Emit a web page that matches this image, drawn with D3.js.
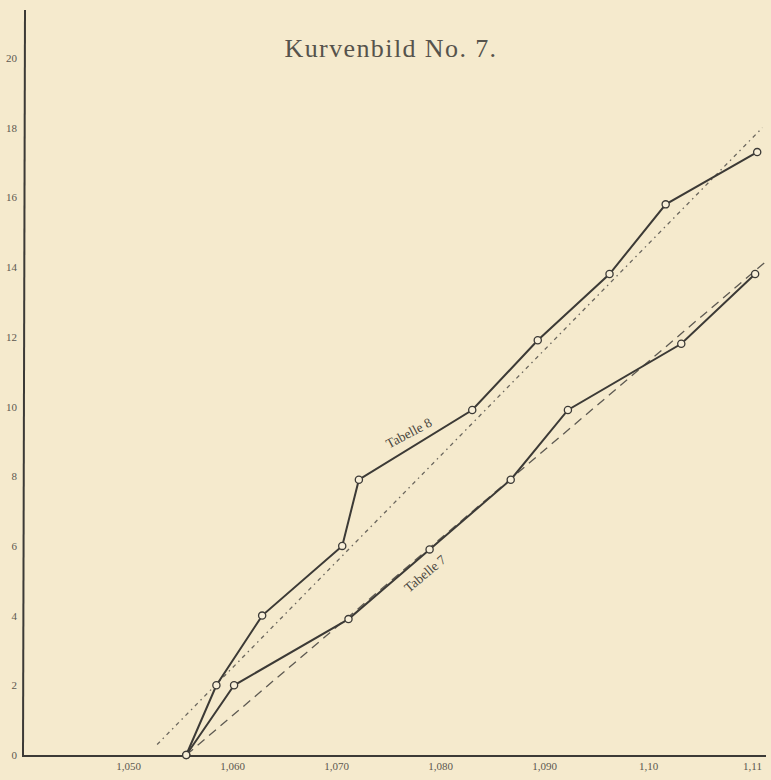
<!DOCTYPE html>
<html>
<head>
<meta charset="utf-8">
<script src="https://cdn.jsdelivr.net/npm/d3@7"></script>
<style>
	html, body { margin: 0; padding: 0; background: #f5eacd; }
	svg { display: block; }
	text { font-family: "Liberation Serif", "DejaVu Serif", serif; }
</style>
</head>
<body>
<svg id="chart" width="771" height="780"></svg>
<script>
// Tick values and their printed labels
const xTicks = [1.05, 1.06, 1.07, 1.08, 1.09, 1.10, 1.11];
const xTickLabels = ["1,050", "1,060", "1,070", "1,080", "1,090", "1,10", "1,11"];
const yTicks = [0, 2, 4, 6, 8, 10, 12, 14, 16, 18, 20];

// Tabelle 8 (upper curve)
const tabelle8X = [1.0556, 1.0585, 1.0629, 1.0706, 1.0722, 1.0831, 1.0894, 1.0963, 1.1017, 1.1105];
const tabelle8Y = [0, 2.0, 4.0, 6.0, 7.9, 9.9, 11.9, 13.8, 15.8, 17.3];

// Tabelle 7 (lower curve)
const tabelle7X = [1.0556, 1.0602, 1.0712, 1.0790, 1.0868, 1.0923, 1.1032, 1.1103];
const tabelle7Y = [0, 2.0, 3.9, 5.9, 7.9, 9.9, 11.8, 13.8];

// Straight reference lines
const dotted8X = [1.0528, 1.1110];
const dotted8Y = [0.3, 18.0];
const dashed7X = [1.0556, 1.1115];
const dashed7Y = [0, 14.2];

const ink = "#3c3a36";
const faint = "#5c5850";

const svg = d3.select("#chart");

// Scales
const x = d3.scaleLinear().domain([1.04, 1.11]).range([24, 752]);
const y = d3.scaleLinear().domain([0, 20]).range([755, 58]);

const zip = (xs, ys) => xs.map((v, i) => [v, ys[i]]);
const line = d3.line().x(d => x(d[0])).y(d => y(d[1]));

// Title
svg.append("text")
	.attr("x", 391).attr("y", 57)
	.attr("text-anchor", "middle")
	.attr("font-size", 26)
	.attr("letter-spacing", 1.4)
	.attr("fill", "#56534c")
	.text("Kurvenbild No. 7.");

// Axes lines
svg.append("line")
	.attr("x1", 25).attr("y1", 10).attr("x2", 23).attr("y2", 756)
	.attr("stroke", ink).attr("stroke-width", 2);
svg.append("line")
	.attr("x1", 22).attr("y1", 756).attr("x2", 766).attr("y2", 756)
	.attr("stroke", ink).attr("stroke-width", 2);

// Tick labels
const xAxis = d3.axisBottom(x)
	.tickValues(xTicks)
	.tickSize(0)
	.tickFormat((d, i) => xTickLabels[i]);
const xg = svg.append("g").attr("transform", "translate(0, 759)").call(xAxis);
xg.select(".domain").remove();
xg.selectAll("text").attr("font-size", 11).attr("fill", faint);

const yAxis = d3.axisLeft(y)
	.tickValues(yTicks)
	.tickSize(0)
	.tickFormat(d => d);
const yg = svg.append("g").attr("transform", "translate(20, 0)").call(yAxis);
yg.select(".domain").remove();
yg.selectAll("text").attr("font-size", 11).attr("fill", faint);

// Reference lines
svg.append("path")
	.datum(zip(dotted8X, dotted8Y))
	.attr("d", line)
	.attr("fill", "none")
	.attr("stroke", "#6a665d")
	.attr("stroke-width", 1.3)
	.attr("stroke-dasharray", "4,4,1.5,4");
svg.append("path")
	.datum(zip(dashed7X, dashed7Y))
	.attr("d", line)
	.attr("fill", "none")
	.attr("stroke", "#5e5a52")
	.attr("stroke-width", 1.3)
	.attr("stroke-dasharray", "9,6");

// Curves with open circle markers
[zip(tabelle8X, tabelle8Y), zip(tabelle7X, tabelle7Y)].forEach(points => {
	svg.append("path")
		.datum(points)
		.attr("d", line)
		.attr("fill", "none")
		.attr("stroke", ink)
		.attr("stroke-width", 2);
	svg.append("g").selectAll("circle")
		.data(points)
		.join("circle")
		.attr("cx", d => x(d[0]))
		.attr("cy", d => y(d[1]))
		.attr("r", 3.6)
		.attr("fill", "#f8efd8")
		.attr("stroke", ink)
		.attr("stroke-width", 1.3);
});

// Curve labels, rotated along their segments
svg.append("text")
	.attr("transform", "translate(411, 437) rotate(-28)")
	.attr("text-anchor", "middle")
	.attr("font-size", 13.5)
	.attr("fill", "#4a4740")
	.text("Tabelle 8");
svg.append("text")
	.attr("transform", "translate(428, 577) rotate(-40)")
	.attr("text-anchor", "middle")
	.attr("font-size", 13.5)
	.attr("fill", "#4a4740")
	.text("Tabelle 7");
</script>
</body>
</html>
